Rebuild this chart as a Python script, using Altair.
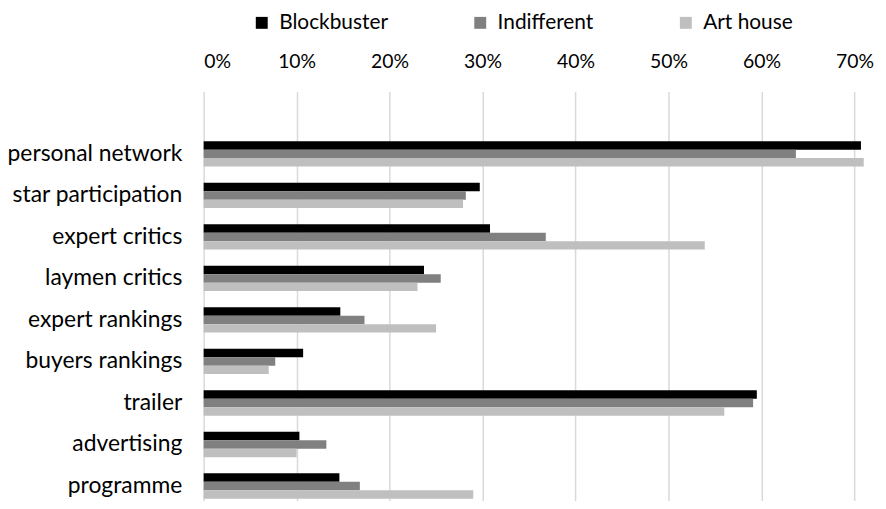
import altair as alt
import pandas as pd

categories = ["personal network", "star participation", "expert critics", "laymen critics",
              "expert rankings", "buyers rankings", "trailer", "advertising", "programme"]
series = ["Blockbuster", "Indifferent", "Art house"]
blockbuster = [70.7, 29.7, 30.8, 23.7, 14.7, 10.7, 59.5, 10.3, 14.6]
indifferent = [63.7, 28.2, 36.8, 25.5, 17.3, 7.7, 59.1, 13.2, 16.8]
art_house = [71.0, 27.9, 53.9, 23.0, 25.0, 7.0, 56.0, 10.0, 29.0]
tick_values = [0, 0.1, 0.2, 0.3, 0.4, 0.5, 0.6, 0.7]
colors = ["#000000", "#808080", "#bfbfbf"]

rows = []
for i, c in enumerate(categories):
    for s, vals in zip(series, [blockbuster, indifferent, art_house]):
        rows.append({"category": c, "series": s, "value": vals[i] / 100})
df = pd.DataFrame(rows)

y_domain = [" "] + categories
FONT = "Lato"

chart = alt.Chart(df).mark_bar().encode(
    x=alt.X("value:Q", title=None,
            scale=alt.Scale(domain=[0, 0.72], nice=False, zero=True),
            axis=alt.Axis(orient="top", format=".0%", values=tick_values, grid=True,
                          gridColor="#d9d9d9", gridWidth=1.5, domain=False, ticks=False,
                          tickSize=0, labelFontSize=19.5, labelFont=FONT, labelColor="#000000",
                          labelPadding=20)),
    y=alt.Y("category:N", title=None, sort=y_domain,
            scale=alt.Scale(domain=y_domain, range=[0, 418], paddingInner=0.39, paddingOuter=0.195),
            axis=alt.Axis(domain=False, ticks=False, tickSize=0, grid=False, labelFontSize=23,
                          labelFont=FONT, labelColor="#000000", labelPadding=22, labelLimit=300)),
    yOffset=alt.YOffset("series:N", sort=series,
                        scale=alt.Scale(domain=series, paddingInner=0, paddingOuter=0)),
    color=alt.Color("series:N", sort=series,
                    scale=alt.Scale(domain=series, range=colors),
                    legend=alt.Legend(orient="none", legendX=48, legendY=-80, direction="horizontal",
                                      title=None, symbolType="square", symbolSize=144,
                                      symbolStrokeWidth=0, labelFontSize=21, labelFont=FONT,
                                      labelColor="#000000", labelOffset=7, columnPadding=82,
                                      padding=0)),
).properties(
    width=674, height=410,
    autosize=alt.AutoSizeParams(type="none"),
    padding={"left": 197, "top": 82.5, "right": 5, "bottom": 0},
).configure_view(stroke=None)

chart.save("out.html", embed_options={"renderer": "svg", "actions": False})
